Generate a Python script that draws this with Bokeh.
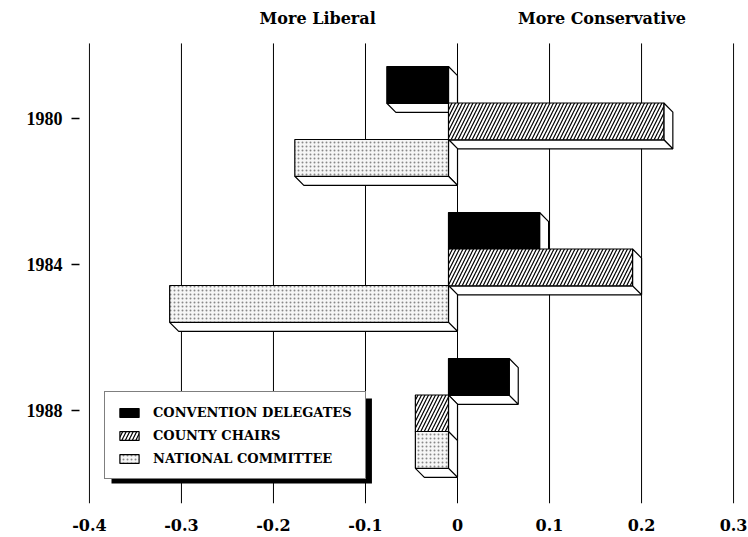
from bokeh.plotting import figure
from bokeh.models import (Range1d, FixedTicker, Legend, LegendItem, BoxAnnotation,
                          Label, ColumnDataSource)
from bokeh.embed import file_html
from bokeh.resources import INLINE

# ---------------- data ----------------
years = ["1980", "1984", "1988"]
year_pos = [0, 1, 2]
convention_delegates = [-0.067, 0.099, 0.066]
county_chairs = [0.234, 0.200, -0.036]
national_committee = [-0.167, -0.303, -0.036]
series_names = ["CONVENTION DELEGATES", "COUNTY CHAIRS", "NATIONAL COMMITTEE"]
x_ticks = [-0.4, -0.3, -0.2, -0.1, 0, 0.1, 0.2, 0.3]
x_tick_labels = ["-0.4", "-0.3", "-0.2", "-0.1", "0", "0.1", "0.2", "0.3"]
header_left = "More Liberal"
header_right = "More Conservative"

# ---------------- style ----------------
DX = 0.0098      # 3-D depth along x (data units)
DY = 0.062       # 3-D depth along y (data units)
BAR_H = 0.252
OFFSETS = [-0.23, 0.02, 0.27]
FONT = "DejaVu Serif"
GRID_TOP = -0.514
GRID_BOTTOM = 2.637

p = figure(width=748, height=537, output_backend="svg", toolbar_location=None,
           x_range=Range1d(-0.401, 0.301), y_range=Range1d(GRID_BOTTOM, -0.808),
           min_border_left=88, min_border_right=14, min_border_top=0,
           min_border_bottom=34)
p.outline_line_color = None
p.background_fill_color = "white"
p.border_fill_color = "white"

# axes
p.xaxis.ticker = FixedTicker(ticks=x_ticks)
p.xaxis.major_label_overrides = {t: l for t, l in zip(x_ticks, x_tick_labels)}
p.xaxis.axis_line_color = None
p.xaxis.major_tick_line_color = None
p.xaxis.minor_tick_line_color = None
p.xaxis.major_label_standoff = 9
p.xaxis.major_label_text_font = FONT
p.xaxis.major_label_text_font_style = "bold"
p.xaxis.major_label_text_font_size = "16px"
p.xaxis.major_label_text_color = "black"

p.yaxis.ticker = FixedTicker(ticks=year_pos)
p.yaxis.major_label_overrides = {t: l for t, l in zip(year_pos, years)}
p.yaxis.axis_line_color = None
p.yaxis.minor_tick_line_color = None
p.yaxis.major_tick_in = -9
p.yaxis.major_tick_out = 17
p.yaxis.major_tick_line_color = "black"
p.yaxis.major_tick_line_width = 1.5
p.yaxis.major_label_standoff = 9
p.yaxis.major_label_text_font = "Liberation Serif"
p.yaxis.major_label_text_font_style = "bold"
p.yaxis.major_label_text_font_size = "18px"
p.yaxis.major_label_text_color = "black"

p.xgrid.visible = False
p.ygrid.visible = False

# vertical grid lines drawn from the tick values
p.segment(x0=x_ticks, y0=[GRID_TOP] * len(x_ticks), x1=x_ticks,
          y1=[GRID_BOTTOM] * len(x_ticks), line_color="black", line_width=1)

series = [convention_delegates, county_chairs, national_committee]
styles = [
    dict(fill_color="black", hatch_pattern=None),
    dict(fill_color="white", hatch_pattern="right_diagonal_line", hatch_color="black",
         hatch_scale=7, hatch_weight=1.2),
    dict(fill_color="#f6f6f6", hatch_pattern="dot", hatch_color="#888888",
         hatch_scale=4, hatch_weight=1),
]

front_renderers = []
for k, vals in enumerate(series):
    lefts, rights, tops, bottoms = [], [], [], []
    side_xs, side_ys, bot_xs, bot_ys = [], [], [], []
    for yp, v in zip(year_pos, vals):
        yc = yp + OFFSETS[k]
        l = min(0, v) - DX
        r = max(0, v) - DX
        t = yc - BAR_H / 2
        b = yc + BAR_H / 2
        lefts.append(l); rights.append(r); tops.append(t); bottoms.append(b)
        side_xs.append([r, r + DX, r + DX, r])
        side_ys.append([t, t + DY, b + DY, b])
        bot_xs.append([l, r, r + DX, l + DX])
        bot_ys.append([b, b, b + DY, b + DY])
    p.patches(xs=side_xs, ys=side_ys, fill_color="white", line_color="black",
              line_width=1.2)
    p.patches(xs=bot_xs, ys=bot_ys, fill_color="white", line_color="black",
              line_width=1.2)
    src = ColumnDataSource(dict(left=lefts, right=rights, top=tops, bottom=bottoms))
    st = styles[k]
    kw = dict(fill_color=st["fill_color"], line_color="black", line_width=1.2)
    if st["hatch_pattern"]:
        kw.update(hatch_pattern=st["hatch_pattern"], hatch_color=st["hatch_color"],
                  hatch_scale=st["hatch_scale"], hatch_weight=st["hatch_weight"])
    rr = p.quad(left="left", right="right", top="top", bottom="bottom", source=src, **kw)
    front_renderers.append(rr)

# legend shadow
shadow = BoxAnnotation(left=-0.376, right=-0.093, top=1.918, bottom=2.500,
                       fill_color="black", fill_alpha=1, line_color=None)
p.add_layout(shadow)

legend = Legend(items=[LegendItem(label=n, renderers=[r])
                       for n, r in zip(series_names, front_renderers)],
                location=(16, 24), orientation="vertical")
legend.border_line_color = "black"
legend.border_line_width = 1.5
legend.background_fill_color = "white"
legend.background_fill_alpha = 1
legend.label_text_font = FONT
legend.label_text_font_style = "bold"
legend.label_text_font_size = "13px"
legend.label_text_color = "black"
legend.glyph_width = 24
legend.glyph_height = 11
legend.label_standoff = 12
legend.padding = 12
legend.spacing = 7
legend.label_height = 16
legend.label_width = 200
legend.margin = 0
p.add_layout(legend)

for txt, xv in [(header_left, -0.152), (header_right, 0.157)]:
    p.add_layout(Label(x=xv, y=-0.685, text=txt, text_align="center",
                       text_baseline="middle", text_font=FONT, text_font_style="bold",
                       text_font_size="16px", text_color="black"))

open("out.html", "w").write(file_html(p, INLINE))
